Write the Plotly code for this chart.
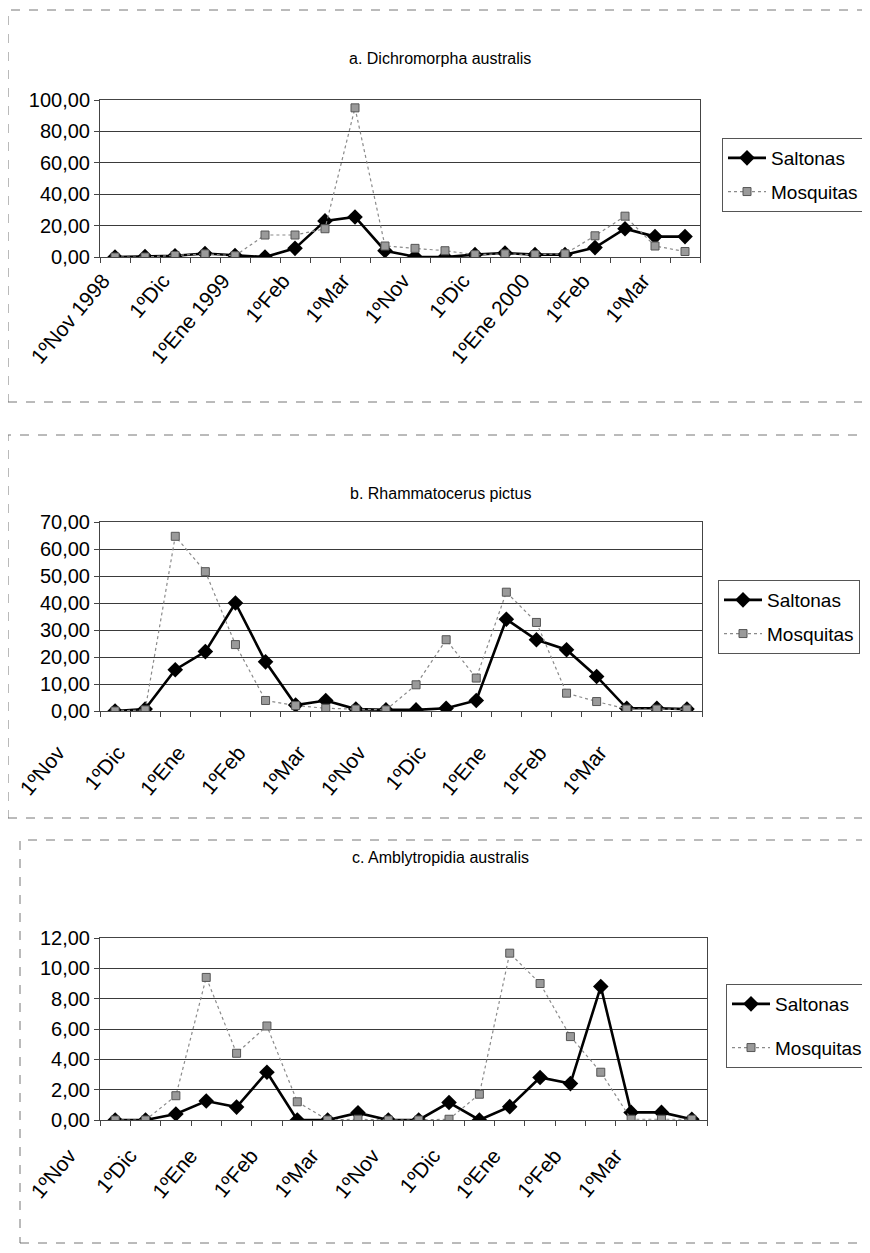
import plotly.graph_objects as go

# ---- data ----
n_points = 20
tick_labels_a = ["1ºNov 1998", "1ºDic", "1ºEne 1999", "1ºFeb", "1ºMar",
                 "1ºNov", "1ºDic", "1ºEne 2000", "1ºFeb", "1ºMar"]
tick_labels_bc = ["1ºNov", "1ºDic", "1ºEne", "1ºFeb", "1ºMar",
                  "1ºNov", "1ºDic", "1ºEne", "1ºFeb", "1ºMar"]

saltonas_a = [0.0, 0.3, 0.8, 2.2, 1.0, 0.0, 5.5, 23.0, 25.5, 4.0,
              0.2, 0.0, 1.5, 2.5, 1.5, 1.5, 6.0, 18.0, 13.0, 13.0]
mosquitas_a = [0.0, 0.0, 1.0, 2.0, 0.8, 14.0, 14.0, 18.0, 95.0, 7.0,
               5.5, 4.0, 1.5, 2.0, 1.5, 2.0, 13.5, 26.0, 7.0, 3.5]

saltonas_b = [0.0, 0.7, 15.3, 22.0, 40.0, 18.2, 2.2, 3.9, 0.7, 0.4,
              0.4, 1.0, 3.9, 34.0, 26.4, 22.7, 12.8, 1.0, 1.0, 0.7]
mosquitas_b = [0.0, 0.4, 64.7, 51.6, 24.6, 3.9, 2.0, 1.0, 0.7, 0.4,
               9.7, 26.4, 12.2, 44.0, 32.8, 6.6, 3.5, 0.7, 0.7, 0.7]

saltonas_c = [0.0, 0.0, 0.4, 1.25, 0.85, 3.15, 0.0, 0.0, 0.47, 0.0,
              0.0, 1.15, 0.0, 0.88, 2.8, 2.4, 8.8, 0.5, 0.5, 0.05]
mosquitas_c = [0.0, 0.0, 1.6, 9.4, 4.4, 6.2, 1.2, 0.0, 0.05, 0.0,
               0.0, 0.05, 1.7, 11.0, 9.0, 5.5, 3.15, 0.05, 0.05, 0.05]

series_names = ["Saltonas", "Mosquitas"]
titles = ["a. Dichromorpha australis", "b. Rhammatocerus pictus",
          "c. Amblytropidia australis"]
y_ranges = [(0, 100), (0, 70), (0, 12)]
y_dticks = [20, 10, 2]

x_idx = list(range(n_points))
label_idx = list(range(0, n_points, 2))

W, H = 870, 1253
OFF = 8  # page body margin: figure starts 8px right/down in the screenshot
FONT = "Liberation Sans, Arial, sans-serif"

def py(p):
    return 1 - (p - OFF) / H

def px(p):
    return (p - OFF) / W

panels = [
    dict(sal=saltonas_a, mos=mosquitas_a, ticks=tick_labels_a,
         top=100, bottom=257, right=700, legend=(722, 138), gap=6,
         shift=-12, standoff=2,
         title_y=58, box=(8, 10, 880, 402)),
    dict(sal=saltonas_b, mos=mosquitas_b, ticks=tick_labels_bc,
         top=522, bottom=711, right=702, legend=(718, 580), gap=6,
         shift=-57, standoff=20,
         title_y=493, box=(8, 435, 880, 818)),
    dict(sal=saltonas_c, mos=mosquitas_c, ticks=tick_labels_bc,
         top=938, bottom=1120, right=707, legend=(726, 984), gap=16,
         shift=-46, standoff=14,
         title_y=857, box=(20, 840, 880, 1243)),
]

fig = go.Figure()
layout = dict(
    width=W, height=H, autosize=False,
    margin=dict(l=0, r=0, t=0, b=0, pad=0, autoexpand=False),
    paper_bgcolor="white", plot_bgcolor="white",
    separators=",.",
    font=dict(family=FONT, color="black"),
    annotations=[], shapes=[],
)

for i, p in enumerate(panels):
    sfx = "" if i == 0 else str(i + 1)
    leg = "legend" if i == 0 else "legend" + str(i + 1)
    fig.add_trace(go.Scatter(
        x=x_idx, y=p["sal"], name=series_names[0], mode="lines+markers",
        line=dict(color="black", width=2.6),
        marker=dict(symbol="diamond", size=12, color="black"),
        legendgroup=f"s{i}",
        xaxis="x" + sfx, yaxis="y" + sfx, legend=leg))
    fig.add_trace(go.Scatter(
        x=x_idx, y=p["mos"], name=series_names[1], mode="lines+markers",
        line=dict(color="#8a8a8a", width=1.2, dash="dot"),
        marker=dict(symbol="square", size=8, color="#9a9a9a",
                    line=dict(color="#555555", width=1)),
        legendgroup=f"m{i}",
        xaxis="x" + sfx, yaxis="y" + sfx, legend=leg))

    layout["xaxis" + sfx] = dict(
        domain=[px(100), px(p["right"])],
        anchor="y" + sfx, automargin=False,
        range=[-0.5, n_points - 0.5],
        tickmode="array", tickvals=label_idx, ticktext=p["ticks"],
        tickangle=-50, ticks="", showgrid=False, zeroline=False,
        ticklabelshift=p["shift"], ticklabelstandoff=p["standoff"],
        showline=True, linecolor="#444", linewidth=1, mirror=True,
        tickfont=dict(size=21, family=FONT, color="black"),
        minor=dict(tickmode="linear", tick0=-0.5, dtick=1, ticks="outside",
                   ticklen=5, tickcolor="#444", showgrid=False),
        fixedrange=True,
    )
    layout["yaxis" + sfx] = dict(
        domain=[py(p["bottom"]), py(p["top"])],
        anchor="x" + sfx, automargin=False,
        range=list(y_ranges[i]), dtick=y_dticks[i], tick0=0,
        tickformat=".2f", ticks="outside", ticklen=5, tickcolor="#444",
        showgrid=True, gridcolor="#3a3a3a", gridwidth=1,
        zeroline=False, showline=True, linecolor="#444", linewidth=1,
        mirror=True,
        tickfont=dict(size=20, family=FONT, color="black"),
        fixedrange=True,
    )
    layout[leg] = dict(
        x=px(p["legend"][0]), y=py(p["legend"][1]),
        xanchor="left", yanchor="top",
        bordercolor="#555", borderwidth=1, bgcolor="white",
        font=dict(size=19, family=FONT, color="black"),
        tracegroupgap=p["gap"], itemwidth=38,
    )
    layout["annotations"].append(dict(
        text=titles[i], x=px(440), y=py(p["title_y"]), xref="paper",
        yref="paper", showarrow=False, xanchor="center", yanchor="middle",
        font=dict(size=16, family=FONT, color="black")))
    x0, y0, x1, y1 = p["box"]
    layout["shapes"].append(dict(
        type="rect", xref="paper", yref="paper",
        x0=px(x0), x1=px(x1), y0=py(y1), y1=py(y0),
        line=dict(color="#777", width=1, dash="dash")))

fig.update_layout(**layout)
fig.write_html("out.html")
